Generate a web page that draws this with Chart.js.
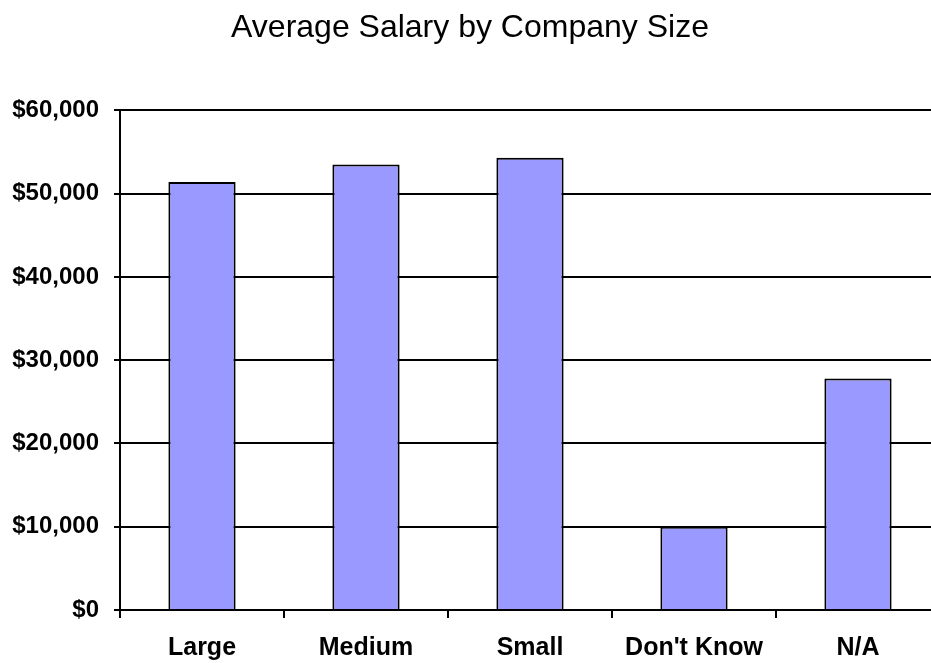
<!DOCTYPE html>
<html>
<head>
<meta charset="utf-8">
<title>Average Salary by Company Size</title>
<script src="https://cdn.jsdelivr.net/npm/chart.js@4.4.1/dist/chart.umd.min.js"></script>
<style>
  html, body { margin: 0; padding: 0; background: #fff; overflow: hidden; }
  canvas { display: block; }
</style>
</head>
<body>
<canvas id="salary" width="940" height="663"></canvas>
<script>
// ── Données ─────────────────────────────────────────────────────
const CATEGORIES = ["Large", "Medium", "Small", "Don't Know", "N/A"];
const SALARIES   = [51400, 53500, 54300, 10000, 27800];
const Y_TICKS    = [0, 10000, 20000, 30000, 40000, 50000, 60000];

const FONT = "'Liberation Sans', Arial, sans-serif";

Chart.defaults.font.family = FONT;
Chart.defaults.color = "#000";

function money(v) {
  return "$" + v.toLocaleString("en-US");
}

new Chart(document.getElementById("salary"), {
  type: "bar",
  data: {
    labels: CATEGORIES,
    datasets: [{
      label: "Average Salary",
      data: SALARIES,
      backgroundColor: "#9999ff",
      borderColor: "#000",
      borderWidth: 2,
      barPercentage: 0.41,
      categoryPercentage: 1,
    }],
  },
  options: {
    responsive: false,
    devicePixelRatio: 1,
    animation: false,
    layout: { padding: 0 },
    plugins: {
      legend: { display: false },
      tooltip: { enabled: false },
      title: {
        display: true,
        text: "Average Salary by Company Size",
        color: "#000",
        font: { size: 32, weight: "normal" },
        padding: { top: 9, bottom: 63 },
      },
    },
    scales: {
      x: {
        afterFit: (scale) => { scale.height = 53; },
        grid: {
          display: true,
          drawOnChartArea: false,
          drawTicks: true,
          tickLength: 8,
          color: "#000",
          lineWidth: 2,
        },
        border: { display: true, color: "#000", width: 2 },
        ticks: {
          color: "#000",
          padding: 15,
          font: { size: 25, weight: "bold" },
        },
      },
      y: {
        min: 0,
        max: 60000,
        afterBuildTicks: (scale) => {
          scale.ticks = Y_TICKS.map(v => ({ value: v }));
        },
        afterFit: (scale) => { scale.width = 120; },
        grid: {
          color: "#000",
          lineWidth: 2,
          tickLength: 6,
        },
        border: { display: true, color: "#000", width: 2 },
        ticks: {
          color: "#000",
          padding: 15,
          font: { size: 24, weight: "bold" },
          callback: (v) => money(v),
        },
      },
    },
  },
});
</script>
</body>
</html>
